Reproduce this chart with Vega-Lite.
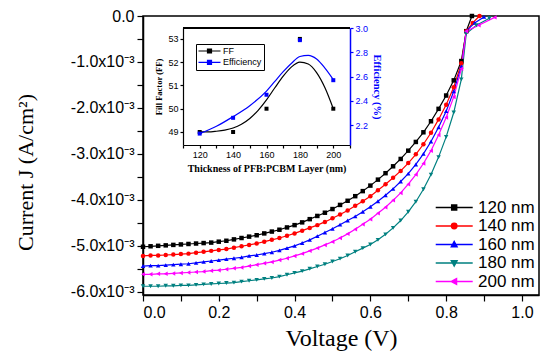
{
  "$schema": "https://vega.github.io/schema/vega-lite/v6.json",
  "width": 396,
  "height": 279,
  "autosize": {"type": "none"},
  "padding": {"left": 143, "top": 16, "right": 11, "bottom": 63},
  "background": "white",
  "config": {
    "view": {"stroke": "black", "strokeWidth": 1.5},
    "axis": {
      "grid": false,
      "domainColor": "black",
      "domainWidth": 1.5,
      "tickColor": "black",
      "tickWidth": 1.2,
      "labelColor": "black",
      "titleColor": "black",
      "labelFont": "Liberation Sans",
      "titleFont": "Liberation Serif",
      "titleFontWeight": "normal",
      "labelOverlap": false
    }
  },
  "datasets": {
    "jv": [
      {"s":"120 nm","v":0.00,"j":-5.02e-3},{"s":"120 nm","v":0.02,"j":-5.01e-3},{"s":"120 nm","v":0.04,"j":-5.00e-3},{"s":"120 nm","v":0.06,"j":-4.99e-3},{"s":"120 nm","v":0.08,"j":-4.98e-3},{"s":"120 nm","v":0.10,"j":-4.97e-3},{"s":"120 nm","v":0.12,"j":-4.96e-3},{"s":"120 nm","v":0.14,"j":-4.95e-3},{"s":"120 nm","v":0.16,"j":-4.94e-3},{"s":"120 nm","v":0.18,"j":-4.93e-3},{"s":"120 nm","v":0.20,"j":-4.91e-3},{"s":"120 nm","v":0.22,"j":-4.89e-3},{"s":"120 nm","v":0.24,"j":-4.86e-3},{"s":"120 nm","v":0.26,"j":-4.83e-3},{"s":"120 nm","v":0.28,"j":-4.80e-3},{"s":"120 nm","v":0.30,"j":-4.77e-3},{"s":"120 nm","v":0.32,"j":-4.73e-3},{"s":"120 nm","v":0.34,"j":-4.69e-3},{"s":"120 nm","v":0.36,"j":-4.65e-3},{"s":"120 nm","v":0.38,"j":-4.60e-3},{"s":"120 nm","v":0.40,"j":-4.55e-3},{"s":"120 nm","v":0.42,"j":-4.49e-3},{"s":"120 nm","v":0.44,"j":-4.42e-3},{"s":"120 nm","v":0.46,"j":-4.35e-3},{"s":"120 nm","v":0.48,"j":-4.28e-3},{"s":"120 nm","v":0.50,"j":-4.20e-3},{"s":"120 nm","v":0.52,"j":-4.11e-3},{"s":"120 nm","v":0.54,"j":-4.02e-3},{"s":"120 nm","v":0.56,"j":-3.92e-3},{"s":"120 nm","v":0.58,"j":-3.81e-3},{"s":"120 nm","v":0.60,"j":-3.69e-3},{"s":"120 nm","v":0.62,"j":-3.56e-3},{"s":"120 nm","v":0.64,"j":-3.42e-3},{"s":"120 nm","v":0.66,"j":-3.27e-3},{"s":"120 nm","v":0.68,"j":-3.11e-3},{"s":"120 nm","v":0.70,"j":-2.93e-3},{"s":"120 nm","v":0.72,"j":-2.74e-3},{"s":"120 nm","v":0.74,"j":-2.53e-3},{"s":"120 nm","v":0.76,"j":-2.29e-3},{"s":"120 nm","v":0.78,"j":-2.02e-3},{"s":"120 nm","v":0.80,"j":-1.73e-3},{"s":"120 nm","v":0.82,"j":-1.40e-3},{"s":"120 nm","v":0.84,"j":-0.98e-3},{"s":"120 nm","v":0.853,"j":-0.33e-3},{"s":"120 nm","v":0.868,"j":0},
      {"s":"140 nm","v":0.00,"j":-5.22e-3},{"s":"140 nm","v":0.02,"j":-5.21e-3},{"s":"140 nm","v":0.04,"j":-5.21e-3},{"s":"140 nm","v":0.06,"j":-5.20e-3},{"s":"140 nm","v":0.08,"j":-5.19e-3},{"s":"140 nm","v":0.10,"j":-5.18e-3},{"s":"140 nm","v":0.12,"j":-5.17e-3},{"s":"140 nm","v":0.14,"j":-5.15e-3},{"s":"140 nm","v":0.16,"j":-5.13e-3},{"s":"140 nm","v":0.18,"j":-5.11e-3},{"s":"140 nm","v":0.20,"j":-5.09e-3},{"s":"140 nm","v":0.22,"j":-5.07e-3},{"s":"140 nm","v":0.24,"j":-5.04e-3},{"s":"140 nm","v":0.26,"j":-5.01e-3},{"s":"140 nm","v":0.28,"j":-4.98e-3},{"s":"140 nm","v":0.30,"j":-4.95e-3},{"s":"140 nm","v":0.32,"j":-4.91e-3},{"s":"140 nm","v":0.34,"j":-4.87e-3},{"s":"140 nm","v":0.36,"j":-4.83e-3},{"s":"140 nm","v":0.38,"j":-4.78e-3},{"s":"140 nm","v":0.40,"j":-4.73e-3},{"s":"140 nm","v":0.42,"j":-4.67e-3},{"s":"140 nm","v":0.44,"j":-4.61e-3},{"s":"140 nm","v":0.46,"j":-4.55e-3},{"s":"140 nm","v":0.48,"j":-4.48e-3},{"s":"140 nm","v":0.50,"j":-4.40e-3},{"s":"140 nm","v":0.52,"j":-4.32e-3},{"s":"140 nm","v":0.54,"j":-4.23e-3},{"s":"140 nm","v":0.56,"j":-4.13e-3},{"s":"140 nm","v":0.58,"j":-4.03e-3},{"s":"140 nm","v":0.60,"j":-3.92e-3},{"s":"140 nm","v":0.62,"j":-3.79e-3},{"s":"140 nm","v":0.64,"j":-3.66e-3},{"s":"140 nm","v":0.66,"j":-3.52e-3},{"s":"140 nm","v":0.68,"j":-3.37e-3},{"s":"140 nm","v":0.70,"j":-3.20e-3},{"s":"140 nm","v":0.72,"j":-3.01e-3},{"s":"140 nm","v":0.74,"j":-2.79e-3},{"s":"140 nm","v":0.76,"j":-2.54e-3},{"s":"140 nm","v":0.78,"j":-2.25e-3},{"s":"140 nm","v":0.80,"j":-1.93e-3},{"s":"140 nm","v":0.82,"j":-1.55e-3},{"s":"140 nm","v":0.84,"j":-1.03e-3},{"s":"140 nm","v":0.853,"j":-0.33e-3},{"s":"140 nm","v":0.87,"j":-0.15e-3},{"s":"140 nm","v":0.888,"j":0},
      {"s":"160 nm","v":0.00,"j":-5.44e-3},{"s":"160 nm","v":0.02,"j":-5.43e-3},{"s":"160 nm","v":0.04,"j":-5.43e-3},{"s":"160 nm","v":0.06,"j":-5.42e-3},{"s":"160 nm","v":0.08,"j":-5.41e-3},{"s":"160 nm","v":0.10,"j":-5.40e-3},{"s":"160 nm","v":0.12,"j":-5.39e-3},{"s":"160 nm","v":0.14,"j":-5.37e-3},{"s":"160 nm","v":0.16,"j":-5.35e-3},{"s":"160 nm","v":0.18,"j":-5.33e-3},{"s":"160 nm","v":0.20,"j":-5.31e-3},{"s":"160 nm","v":0.22,"j":-5.29e-3},{"s":"160 nm","v":0.24,"j":-5.27e-3},{"s":"160 nm","v":0.26,"j":-5.25e-3},{"s":"160 nm","v":0.28,"j":-5.22e-3},{"s":"160 nm","v":0.30,"j":-5.20e-3},{"s":"160 nm","v":0.32,"j":-5.17e-3},{"s":"160 nm","v":0.34,"j":-5.14e-3},{"s":"160 nm","v":0.36,"j":-5.10e-3},{"s":"160 nm","v":0.38,"j":-5.05e-3},{"s":"160 nm","v":0.40,"j":-5.00e-3},{"s":"160 nm","v":0.42,"j":-4.94e-3},{"s":"160 nm","v":0.44,"j":-4.87e-3},{"s":"160 nm","v":0.46,"j":-4.79e-3},{"s":"160 nm","v":0.48,"j":-4.71e-3},{"s":"160 nm","v":0.50,"j":-4.63e-3},{"s":"160 nm","v":0.52,"j":-4.54e-3},{"s":"160 nm","v":0.54,"j":-4.45e-3},{"s":"160 nm","v":0.56,"j":-4.36e-3},{"s":"160 nm","v":0.58,"j":-4.26e-3},{"s":"160 nm","v":0.60,"j":-4.15e-3},{"s":"160 nm","v":0.62,"j":-4.03e-3},{"s":"160 nm","v":0.64,"j":-3.90e-3},{"s":"160 nm","v":0.66,"j":-3.76e-3},{"s":"160 nm","v":0.68,"j":-3.60e-3},{"s":"160 nm","v":0.70,"j":-3.43e-3},{"s":"160 nm","v":0.72,"j":-3.23e-3},{"s":"160 nm","v":0.74,"j":-3.00e-3},{"s":"160 nm","v":0.76,"j":-2.73e-3},{"s":"160 nm","v":0.78,"j":-2.42e-3},{"s":"160 nm","v":0.80,"j":-2.07e-3},{"s":"160 nm","v":0.82,"j":-1.64e-3},{"s":"160 nm","v":0.84,"j":-1.10e-3},{"s":"160 nm","v":0.853,"j":-0.33e-3},{"s":"160 nm","v":0.875,"j":-0.15e-3},{"s":"160 nm","v":0.90,"j":-0.02e-3},
      {"s":"180 nm","v":0.00,"j":-5.88e-3},{"s":"180 nm","v":0.02,"j":-5.88e-3},{"s":"180 nm","v":0.04,"j":-5.88e-3},{"s":"180 nm","v":0.06,"j":-5.87e-3},{"s":"180 nm","v":0.08,"j":-5.87e-3},{"s":"180 nm","v":0.10,"j":-5.86e-3},{"s":"180 nm","v":0.12,"j":-5.86e-3},{"s":"180 nm","v":0.14,"j":-5.85e-3},{"s":"180 nm","v":0.16,"j":-5.84e-3},{"s":"180 nm","v":0.18,"j":-5.83e-3},{"s":"180 nm","v":0.20,"j":-5.82e-3},{"s":"180 nm","v":0.22,"j":-5.81e-3},{"s":"180 nm","v":0.24,"j":-5.80e-3},{"s":"180 nm","v":0.26,"j":-5.78e-3},{"s":"180 nm","v":0.28,"j":-5.76e-3},{"s":"180 nm","v":0.30,"j":-5.74e-3},{"s":"180 nm","v":0.32,"j":-5.72e-3},{"s":"180 nm","v":0.34,"j":-5.70e-3},{"s":"180 nm","v":0.36,"j":-5.67e-3},{"s":"180 nm","v":0.38,"j":-5.63e-3},{"s":"180 nm","v":0.40,"j":-5.59e-3},{"s":"180 nm","v":0.42,"j":-5.55e-3},{"s":"180 nm","v":0.44,"j":-5.50e-3},{"s":"180 nm","v":0.46,"j":-5.45e-3},{"s":"180 nm","v":0.48,"j":-5.40e-3},{"s":"180 nm","v":0.50,"j":-5.34e-3},{"s":"180 nm","v":0.52,"j":-5.28e-3},{"s":"180 nm","v":0.54,"j":-5.21e-3},{"s":"180 nm","v":0.56,"j":-5.13e-3},{"s":"180 nm","v":0.58,"j":-5.05e-3},{"s":"180 nm","v":0.60,"j":-4.97e-3},{"s":"180 nm","v":0.62,"j":-4.87e-3},{"s":"180 nm","v":0.64,"j":-4.75e-3},{"s":"180 nm","v":0.66,"j":-4.61e-3},{"s":"180 nm","v":0.68,"j":-4.45e-3},{"s":"180 nm","v":0.70,"j":-4.26e-3},{"s":"180 nm","v":0.72,"j":-4.04e-3},{"s":"180 nm","v":0.74,"j":-3.77e-3},{"s":"180 nm","v":0.76,"j":-3.45e-3},{"s":"180 nm","v":0.78,"j":-3.07e-3},{"s":"180 nm","v":0.80,"j":-2.63e-3},{"s":"180 nm","v":0.82,"j":-2.10e-3},{"s":"180 nm","v":0.84,"j":-1.38e-3},{"s":"180 nm","v":0.853,"j":-0.38e-3},{"s":"180 nm","v":0.88,"j":-0.20e-3},{"s":"180 nm","v":0.914,"j":-0.05e-3},
      {"s":"200 nm","v":0.00,"j":-5.62e-3},{"s":"200 nm","v":0.02,"j":-5.62e-3},{"s":"200 nm","v":0.04,"j":-5.61e-3},{"s":"200 nm","v":0.06,"j":-5.61e-3},{"s":"200 nm","v":0.08,"j":-5.60e-3},{"s":"200 nm","v":0.10,"j":-5.59e-3},{"s":"200 nm","v":0.12,"j":-5.58e-3},{"s":"200 nm","v":0.14,"j":-5.57e-3},{"s":"200 nm","v":0.16,"j":-5.56e-3},{"s":"200 nm","v":0.18,"j":-5.54e-3},{"s":"200 nm","v":0.20,"j":-5.53e-3},{"s":"200 nm","v":0.22,"j":-5.51e-3},{"s":"200 nm","v":0.24,"j":-5.49e-3},{"s":"200 nm","v":0.26,"j":-5.47e-3},{"s":"200 nm","v":0.28,"j":-5.44e-3},{"s":"200 nm","v":0.30,"j":-5.41e-3},{"s":"200 nm","v":0.32,"j":-5.38e-3},{"s":"200 nm","v":0.34,"j":-5.35e-3},{"s":"200 nm","v":0.36,"j":-5.31e-3},{"s":"200 nm","v":0.38,"j":-5.27e-3},{"s":"200 nm","v":0.40,"j":-5.22e-3},{"s":"200 nm","v":0.42,"j":-5.17e-3},{"s":"200 nm","v":0.44,"j":-5.11e-3},{"s":"200 nm","v":0.46,"j":-5.05e-3},{"s":"200 nm","v":0.48,"j":-4.98e-3},{"s":"200 nm","v":0.50,"j":-4.91e-3},{"s":"200 nm","v":0.52,"j":-4.83e-3},{"s":"200 nm","v":0.54,"j":-4.74e-3},{"s":"200 nm","v":0.56,"j":-4.64e-3},{"s":"200 nm","v":0.58,"j":-4.53e-3},{"s":"200 nm","v":0.60,"j":-4.42e-3},{"s":"200 nm","v":0.62,"j":-4.29e-3},{"s":"200 nm","v":0.64,"j":-4.16e-3},{"s":"200 nm","v":0.66,"j":-4.01e-3},{"s":"200 nm","v":0.68,"j":-3.85e-3},{"s":"200 nm","v":0.70,"j":-3.66e-3},{"s":"200 nm","v":0.72,"j":-3.45e-3},{"s":"200 nm","v":0.74,"j":-3.21e-3},{"s":"200 nm","v":0.76,"j":-2.93e-3},{"s":"200 nm","v":0.78,"j":-2.59e-3},{"s":"200 nm","v":0.80,"j":-2.21e-3},{"s":"200 nm","v":0.82,"j":-1.76e-3},{"s":"200 nm","v":0.84,"j":-1.15e-3},{"s":"200 nm","v":0.853,"j":-0.33e-3},{"s":"200 nm","v":0.886,"j":-0.20e-3},{"s":"200 nm","v":0.928,"j":-0.03e-3}
    ],
    "ins": [
      {"m":"FF","t":120,"val":49},{"m":"FF","t":140,"val":49},{"m":"FF","t":160,"val":50},{"m":"FF","t":180,"val":53},{"m":"FF","t":200,"val":50},
      {"m":"Efficiency","t":120,"val":2.13},{"m":"Efficiency","t":140,"val":2.26},{"m":"Efficiency","t":160,"val":2.45},{"m":"Efficiency","t":180,"val":2.9},{"m":"Efficiency","t":200,"val":2.57}
    ],
    "fit": [
      {"m":"FF","t":120,"val":49.0},{"m":"FF","t":125,"val":49.0},{"m":"FF","t":130,"val":49.03},{"m":"FF","t":135,"val":49.08},{"m":"FF","t":140,"val":49.17},{"m":"FF","t":145,"val":49.33},{"m":"FF","t":150,"val":49.58},{"m":"FF","t":155,"val":49.93},{"m":"FF","t":160,"val":50.38},{"m":"FF","t":165,"val":50.9},{"m":"FF","t":170,"val":51.4},{"m":"FF","t":175,"val":51.8},{"m":"FF","t":180,"val":52.0},{"m":"FF","t":185,"val":51.92},{"m":"FF","t":190,"val":51.55},{"m":"FF","t":195,"val":50.9},{"m":"FF","t":200,"val":50.0},
      {"m":"Efficiency","t":120,"val":2.13},{"m":"Efficiency","t":130,"val":2.19},{"m":"Efficiency","t":140,"val":2.27},{"m":"Efficiency","t":150,"val":2.36},{"m":"Efficiency","t":160,"val":2.48},{"m":"Efficiency","t":165,"val":2.56},{"m":"Efficiency","t":170,"val":2.64},{"m":"Efficiency","t":175,"val":2.71},{"m":"Efficiency","t":180,"val":2.765},{"m":"Efficiency","t":185,"val":2.775},{"m":"Efficiency","t":190,"val":2.745},{"m":"Efficiency","t":195,"val":2.67},{"m":"Efficiency","t":200,"val":2.575}
    ]
  },
  "layer": [
    {
      "data": {"name": "jv"},
      "encoding": {
        "x": {
          "field": "v", "type": "quantitative",
          "scale": {"domain": [0, 1.045], "nice": false, "zero": false},
          "axis": {
            "orient": "bottom",
            "values": [0, 0.1, 0.2, 0.3, 0.4, 0.5, 0.6, 0.7, 0.8, 0.9, 1.0],
            "labelExpr": "round(datum.value*10) % 2 === 0 ? format(datum.value, '.1f') : ''",
            "labelFontSize": 16, "labelPadding": 3, "tickSize": 6, "labelOverlap": false,
            "title": "Voltage (V)", "titleFontSize": 24, "titlePadding": 6
          }
        },
        "y": {
          "field": "j", "type": "quantitative",
          "scale": {"domain": [-0.00607, 0], "nice": false, "zero": false},
          "axis": {
            "orient": "left",
            "values": [-0.006, -0.0055, -0.005, -0.0045, -0.004, -0.0035, -0.003, -0.0025, -0.002, -0.0015, -0.001, -0.0005, 0],
            "labelExpr": "abs(round(datum.value*2000)) % 2 === 0 ? (datum.value === 0 ? '0.0' : '-' + format(abs(datum.value)*1000, '.1f') + 'x10⁻³') : ''",
            "labelFontSize": 16, "labelPadding": 3, "tickSize": 6, "labelOverlap": false,
            "title": "Current J (A/cm²)", "titleFontSize": 22, "titleX": -106, "titleY": 156
          }
        },
        "color": {
          "field": "s", "type": "nominal",
          "scale": {"domain": ["120 nm", "140 nm", "160 nm", "180 nm", "200 nm"], "range": ["#000000", "#ff0000", "#0000ff", "#008080", "#ff00ff"]},
          "legend": {
            "orient": "none", "legendX": 292, "legendY": 183, "title": null,
            "labelFont": "Liberation Sans", "labelFontSize": 17, "labelColor": "black",
            "symbolSize": 200, "labelOffset": 26, "rowPadding": 0.5, "padding": 0,
            "symbolStrokeWidth": 1.5,
            "encode": {
              "symbols": {
                "update": {
                  "shape": {"signal": "datum.value === '120 nm' ? 'M-1.1,0H4.13M1.16,-0.35H1.86V0.35H1.16Z' : datum.value === '140 nm' ? 'M-1.1,0H4.13M1.13,0A0.38,0.38,0,1,0,1.89,0A0.38,0.38,0,1,0,1.13,0Z' : datum.value === '160 nm' ? 'M-1.1,0H4.13M1.11,0.33L1.51,-0.4L1.91,0.33Z' : datum.value === '180 nm' ? 'M-1.1,0H4.13M1.11,-0.33L1.51,0.4L1.91,-0.33Z' : 'M-1.1,0H4.13M1.84,-0.4L1.1,0L1.84,0.4Z'"},
                  "fill": {"scale": "color", "field": "value"},
                  "stroke": {"scale": "color", "field": "value"},
                  "strokeWidth": {"value": 1.5},
                  "opacity": {"value": 1}
                }
              }
            }
          }
        }
      },
      "layer": [
        {
          "mark": {"type": "line", "strokeWidth": 1.2}
        },
        {
          "mark": {"type": "point", "filled": true, "opacity": 1, "size": 20},
          "encoding": {
            "shape": {
              "field": "s", "type": "nominal",
              "scale": {"range": ["square", "circle", "triangle-up", "triangle-down", "triangle-left"]},
              "legend": null
            }
          }
        }
      ]
    },
    {
      "encoding": {
        "x": {
          "field": "t", "type": "quantitative",
          "scale": {"domain": [110, 210], "range": [40, 207], "nice": false, "zero": false},
          "axis": {
            "orient": "bottom", "offset": -150,
            "values": [110, 120, 130, 140, 150, 160, 170, 180, 190, 200, 210],
            "labelExpr": "datum.value % 20 === 0 && datum.value >= 120 && datum.value <= 200 ? datum.label : ''",
            "labelFontSize": 9, "labelPadding": 2, "tickSize": 3, "domainWidth": 1.2, "labelOverlap": false,
            "title": "Thickness of PFB:PCBM Layer (nm)", "titleFontSize": 10, "titleFontWeight": "bold", "titlePadding": 4
          }
        }
      },
      "layer": [
        {
          "data": {"name": "fit"},
          "transform": [{"filter": "datum.m === 'FF'"}],
          "layer": [
            {
              "mark": {"type": "line", "strokeWidth": 1.2, "interpolate": "monotone"},
              "encoding": {
                "y": {
                  "field": "val", "type": "quantitative",
                  "scale": {"domain": [48.44, 53.47], "range": [129, 12], "nice": false, "zero": false},
                  "axis": {
                    "orient": "left", "offset": -40,
                    "values": [49, 50, 51, 52, 53],
                    "format": "d",
                    "labels": true,
                    "labelFontSize": 9, "labelPadding": 2, "tickSize": 3, "domainWidth": 1.2, "labelOverlap": false,
                    "title": "Fill Factor (FF)", "titleFontSize": 8.5, "titleFontWeight": "bold", "titlePadding": 4
                  }
                },
                "stroke": {
                  "field": "m", "type": "nominal",
                  "scale": {"domain": ["FF", "Efficiency"], "range": ["#000000", "#0000ff"]},
                  "legend": {
                    "orient": "none", "legendX": 53, "legendY": 28, "title": null,
                    "labelFont": "Liberation Sans", "labelFontSize": 9, "labelColor": "black",
                    "symbolSize": 64, "symbolType": "M-1.125,0H4.375M1.125,-0.5H2.125V0.5H1.125Z",
                    "labelOffset": 15, "rowPadding": 1.3, "padding": 2,
                    "strokeColor": "black", "fillColor": "white", "symbolStrokeWidth": 1.2,
                    "encode": {"symbols": {"update": {"stroke": {"scale": "stroke", "field": "value"}, "fill": {"scale": "stroke", "field": "value"}, "strokeWidth": {"value": 1.2}, "opacity": {"value": 1}}}}
                  }
                }
              }
            },
            {
              "data": {"name": "ins"},
              "transform": [{"filter": "datum.m === 'FF'"}],
              "mark": {"type": "point", "shape": "square", "filled": true, "opacity": 1, "size": 16},
              "encoding": {
                "y": {"field": "val", "type": "quantitative"},
                "fill": {
                  "field": "m", "type": "nominal",
                  "scale": {"domain": ["FF", "Efficiency"], "range": ["#000000", "#0000ff"]},
                  "legend": {
                    "orient": "none", "legendX": 53, "legendY": 28, "title": null,
                    "labelFont": "Liberation Sans", "labelFontSize": 9, "labelColor": "black",
                    "symbolSize": 64, "symbolType": "M-1.125,0H4.375M1.125,-0.5H2.125V0.5H1.125Z",
                    "labelOffset": 15, "rowPadding": 1.3, "padding": 2,
                    "strokeColor": "black", "fillColor": "white", "symbolStrokeWidth": 1.2,
                    "encode": {"symbols": {"update": {"stroke": {"scale": "stroke", "field": "value"}, "fill": {"scale": "stroke", "field": "value"}, "strokeWidth": {"value": 1.2}, "opacity": {"value": 1}}}}
                  }
                }
              }
            }
          ]
        },
        {
          "data": {"name": "fit"},
          "transform": [{"filter": "datum.m === 'Efficiency'"}],
          "layer": [
            {
              "mark": {"type": "line", "strokeWidth": 1.2, "interpolate": "monotone"},
              "encoding": {
                "y": {
                  "field": "val", "type": "quantitative",
                  "scale": {"domain": [2.036, 3.0], "range": [129, 12], "nice": false, "zero": false},
                  "axis": {
                    "orient": "right", "offset": -189,
                    "values": [2.2, 2.4, 2.6, 2.8, 3.0],
                    "format": ".1f",
                    "labels": true,
                    "labelFontSize": 9, "labelPadding": 2, "tickSize": 3, "domainWidth": 1.5, "labelOverlap": false,
                    "domainColor": "#0000ff", "tickColor": "#0000ff", "labelColor": "#0000ff", "titleColor": "#0000ff",
                    "title": "Efficiency (%)", "titleFontSize": 10.5, "titleFontWeight": "bold", "titlePadding": 4
                  }
                },
                "stroke": {
                  "field": "m", "type": "nominal",
                  "legend": {
                    "orient": "none", "legendX": 53, "legendY": 28, "title": null,
                    "labelFont": "Liberation Sans", "labelFontSize": 9, "labelColor": "black",
                    "symbolSize": 64, "symbolType": "M-1.125,0H4.375M1.125,-0.5H2.125V0.5H1.125Z",
                    "labelOffset": 15, "rowPadding": 1.3, "padding": 2,
                    "strokeColor": "black", "fillColor": "white", "symbolStrokeWidth": 1.2,
                    "encode": {"symbols": {"update": {"stroke": {"scale": "stroke", "field": "value"}, "fill": {"scale": "stroke", "field": "value"}, "strokeWidth": {"value": 1.2}, "opacity": {"value": 1}}}}
                  }
                }
              }
            },
            {
              "data": {"name": "ins"},
              "transform": [{"filter": "datum.m === 'Efficiency'"}],
              "mark": {"type": "point", "shape": "square", "filled": true, "opacity": 1, "size": 16},
              "encoding": {
                "y": {"field": "val", "type": "quantitative"},
                "fill": {
                  "field": "m", "type": "nominal",
                  "legend": {
                    "orient": "none", "legendX": 53, "legendY": 28, "title": null,
                    "labelFont": "Liberation Sans", "labelFontSize": 9, "labelColor": "black",
                    "symbolSize": 64, "symbolType": "M-1.125,0H4.375M1.125,-0.5H2.125V0.5H1.125Z",
                    "labelOffset": 15, "rowPadding": 1.3, "padding": 2,
                    "strokeColor": "black", "fillColor": "white", "symbolStrokeWidth": 1.2,
                    "encode": {"symbols": {"update": {"stroke": {"scale": "stroke", "field": "value"}, "fill": {"scale": "stroke", "field": "value"}, "strokeWidth": {"value": 1.2}, "opacity": {"value": 1}}}}
                  }
                }
              }
            },
            {
              "mark": {"type": "rule", "color": "black", "strokeWidth": 1.2},
              "encoding": {"x": {"datum": 110}, "x2": {"datum": 210}, "y": {"datum": 3.0}}
            }
          ]
        }
      ],
      "resolve": {"scale": {"y": "independent"}, "axis": {"y": "independent"}}
    }
  ],
  "resolve": {"scale": {"x": "independent", "y": "independent"}, "axis": {"x": "independent", "y": "independent"}}
}
